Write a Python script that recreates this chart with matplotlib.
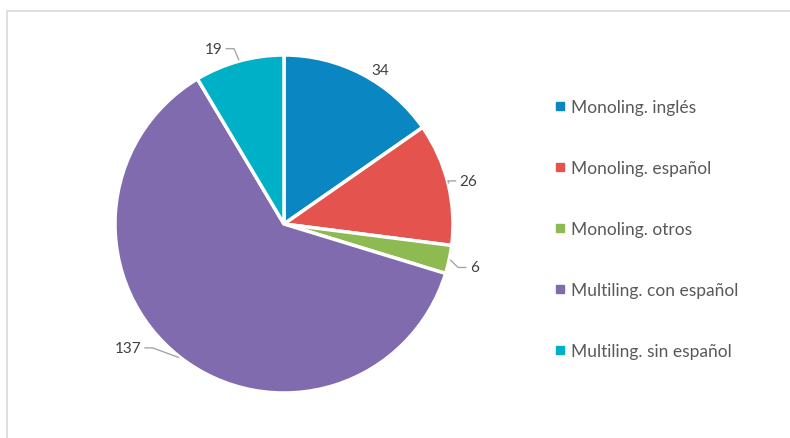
import numpy as np
import matplotlib
matplotlib.use("Agg")
import matplotlib.pyplot as plt
from matplotlib.patches import Rectangle
from matplotlib.lines import Line2D

categories = ["Monoling. inglés", "Monoling. español", "Monoling. otros",
              "Multiling. con español", "Multiling. sin español"]
values = [34, 26, 6, 137, 19]
colors = ["#0A86C3", "#E5534F", "#8DBB52", "#7F6BAE", "#00B0C6"]

W, H = 790, 439
fig = plt.figure(figsize=(W / 100, H / 100), dpi=100)
fig.patch.set_facecolor("white")

# frame (top and left visible)
fig.patches.append(Rectangle((6.5 / W, -0.1), 1.2, (H - 11.5) / H + 0.1,
                             transform=fig.transFigure, fill=False,
                             edgecolor="#D9D9D9", linewidth=1.2))

cx, cy, R = 284, 225, 169
ax = fig.add_axes([(cx - R) / W, (H - cy - R) / H, 2 * R / W, 2 * R / H])
wedges, _ = ax.pie(values, colors=colors, startangle=90, counterclock=False,
                   wedgeprops=dict(edgecolor="white", linewidth=2.5))
ax.set_xlim(-1, 1)
ax.set_ylim(-1, 1)
ax.set_aspect("equal")
ax.axis("off")

# label placement tweaks (angle shift in degrees, radius, leader line)
label_cfg = [(-2, 1.05, False), (0, 1.07, True), (-1, 1.13, True),
             (-11, 1.12, True), (4, 1.10, True)]
total = sum(values)
cum = 0
for v, (da, rl, lead) in zip(values, label_cfg):
    mid = 90 - 360 * (cum + v / 2) / total
    cum += v
    a = np.deg2rad(mid + da)
    tx, ty = rl * np.cos(a), rl * np.sin(a)
    am = np.deg2rad(mid)
    ex, ey = 1.0 * np.cos(am), 1.0 * np.sin(am)
    ha = "left" if tx > 0 else "right"
    ax.text(tx, ty, str(v), ha=ha, va="center", fontsize=11,
            color="#404040", family="Lato")
    if lead:
        sgn = 1 if tx > 0 else -1
        hx = tx - sgn * 0.02
        kx = hx - sgn * 0.05
        ax.plot([hx, kx, ex * 1.005], [ty, ty, ey * 1.005], color="#A6A6A6",
                lw=1.0, clip_on=False, solid_capstyle="butt")

handles = [Line2D([0], [0], marker="s", linestyle="none", markersize=5.5,
                  markerfacecolor=c, markeredgecolor=c) for c in colors]
leg = fig.legend(handles, categories, loc="center left",
                 bbox_to_anchor=(548 / W, 1 - 230 / H), frameon=False,
                 prop=dict(family="Lato", size=12.5), labelspacing=2.6,
                 handlelength=0.6, handletextpad=0.3, borderaxespad=0)
for t in leg.get_texts():
    t.set_color("#595959")

fig.savefig("out.png", dpi=100, facecolor="white")
